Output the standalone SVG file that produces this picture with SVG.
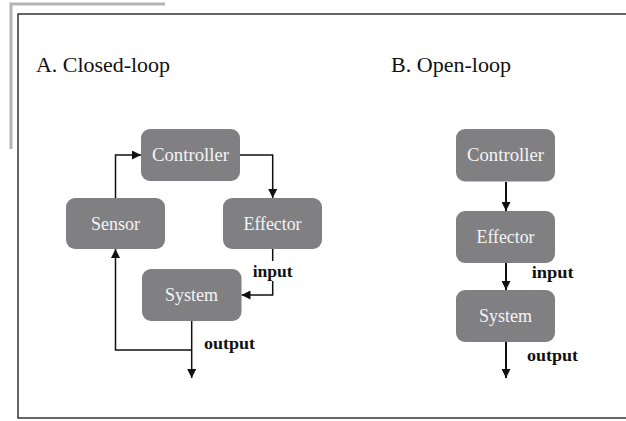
<svg xmlns="http://www.w3.org/2000/svg" width="626" height="421" viewBox="0 0 626 421">
<style>
.node rect{fill:#808083;}
.node text{fill:#f4f4f4;font-family:'Liberation Serif','DejaVu Serif',serif;font-size:19px;text-anchor:middle;}
.title{font-family:'Liberation Serif','DejaVu Serif',serif;font-size:20px;fill:#111;}
.lbl{font-family:'Liberation Serif','DejaVu Serif',serif;font-size:16px;font-weight:bold;fill:#111;}
.conn path{fill:none;stroke:#111;stroke-width:1.5;}
.conn .thick{stroke-width:2;}
</style>
<defs>
<marker id="ah" viewBox="0 0 10 10" refX="10" refY="5" markerWidth="10" markerHeight="9" markerUnits="userSpaceOnUse" orient="auto">
<path d="M0,0 L10,5 L0,10 z" fill="#111"/>
</marker>
</defs>
<rect width="626" height="421" fill="#fff"/>
<polyline points="11,149 11,4 165,4" fill="none" stroke="#b4b4b6" stroke-width="3"/>
<rect x="18" y="14" width="620" height="404" fill="none" stroke="#333" stroke-width="1.5"/>
<text class="title" x="36" y="72" textLength="134" lengthAdjust="spacingAndGlyphs">A. Closed-loop</text>
<text class="title" x="391" y="72" textLength="120" lengthAdjust="spacingAndGlyphs">B. Open-loop</text>

<g class="conn">
<path d="M240,155 H272.7 V198" marker-end="url(#ah)"/>
<path d="M115.5,198 V155 H141" marker-end="url(#ah)"/>
<path d="M272.7,249 V261"/>
<path d="M272.7,281 V295 H241.5" marker-end="url(#ah)"/>
<path d="M191.7,321 V378" marker-end="url(#ah)"/>
<path d="M191.7,350 H115.5 V249" marker-end="url(#ah)"/>
<path class="thick" d="M506,182 V211" marker-end="url(#ah)"/>
<path class="thick" d="M506,263 V290" marker-end="url(#ah)"/>
<path class="thick" d="M506,342 V378" marker-end="url(#ah)"/>
</g>
<text class="lbl" x="252.7" y="277" textLength="40" lengthAdjust="spacingAndGlyphs">input</text>
<text class="lbl" x="204" y="349" textLength="51" lengthAdjust="spacingAndGlyphs">output</text>
<text class="lbl" x="531.7" y="278" textLength="42" lengthAdjust="spacingAndGlyphs">input</text>
<text class="lbl" x="527" y="361" textLength="51" lengthAdjust="spacingAndGlyphs">output</text>

<g id="a-controller" class="node"><rect x="141" y="129" width="99" height="52" rx="9"/><text x="190.5" y="161" textLength="77" lengthAdjust="spacingAndGlyphs">Controller</text></g>
<g id="a-sensor" class="node"><rect x="66" y="198" width="99" height="51" rx="9"/><text x="115.5" y="230" textLength="49" lengthAdjust="spacingAndGlyphs">Sensor</text></g>
<g id="a-effector" class="node"><rect x="223" y="198" width="99" height="51" rx="9"/><text x="272.5" y="230" textLength="58" lengthAdjust="spacingAndGlyphs">Effector</text></g>
<g id="a-system" class="node"><rect x="142" y="269" width="99.5" height="52" rx="9"/><text x="191.5" y="301" textLength="53" lengthAdjust="spacingAndGlyphs">System</text></g>

<g id="b-controller" class="node"><rect x="456" y="129" width="99" height="52.5" rx="9"/><text x="505.5" y="161" textLength="77" lengthAdjust="spacingAndGlyphs">Controller</text></g>
<g id="b-effector" class="node"><rect x="456" y="211" width="99" height="52" rx="9"/><text x="505.5" y="243" textLength="58" lengthAdjust="spacingAndGlyphs">Effector</text></g>
<g id="b-system" class="node"><rect x="456" y="290" width="99" height="52" rx="9"/><text x="505.5" y="322" textLength="53" lengthAdjust="spacingAndGlyphs">System</text></g>
</svg>
